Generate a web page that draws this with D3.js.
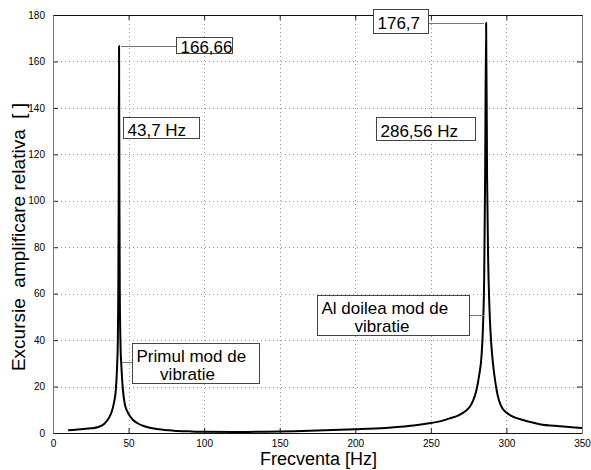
<!DOCTYPE html>
<html>
<head>
<meta charset="utf-8">
<script src="https://cdn.jsdelivr.net/npm/d3@7"></script>
<style>
  body { margin: 0; background: #fff; }
  text { font-family: "Liberation Sans", Arial, Helvetica, sans-serif; }
</style>
</head>
<body>
<script>
// frequency response (Hz -> relative amplification)
var freq = [10, 15, 20, 25, 30, 34, 37, 39, 40.5, 41.5, 42.3, 42.9, 43.2, 43.45, 43.7,
  43.95, 44.2, 44.6, 45.3, 46.2, 47.5, 49, 51, 53, 56, 60, 64, 70, 80, 90, 100, 120,
  140, 160, 180, 200, 220, 240, 250, 256, 262, 268, 273, 276, 278, 280, 282, 283.5,
  284.5, 285.3, 285.9, 286.56, 287.2, 287.9, 288.7, 289.6, 290.5, 292, 293.5, 295,
  297, 300, 305, 311, 322, 335, 350];
var amp = [1.2, 1.4, 1.7, 2.0, 2.6, 4.0, 6.5, 9.5, 13.5, 18, 27, 40, 60, 100, 166.66,
  100, 60, 40, 28, 19, 12.5, 9.5, 7.2, 5.6, 4.2, 3.0, 2.3, 1.6, 1.0, 0.7, 0.5, 0.45,
  0.55, 0.8, 1.15, 1.6, 2.2, 3.3, 4.3, 5.0, 6.2, 7.5, 9.5, 11.5, 14, 18, 25, 33,
  46, 68, 110, 176.7, 110, 75, 55, 42, 34, 25, 18.5, 14.2,
  11, 8.8, 6.8, 5.6, 3.8, 2.9, 2.2];

var xTicks = [0, 50, 100, 150, 200, 250, 300, 350];
var yTicks = [0, 20, 40, 60, 80, 100, 120, 140, 160, 180];

var xTitle = "Frecventa [Hz]";
var yTitle = "Excursie  amplificare relativa  [ ]";

var noteTexts = [
  ["166,66"],
  ["43,7 Hz"],
  ["176,7"],
  ["286,56 Hz"],
  ["Primul mod de", "     vibratie"],
  ["Al doilea mod de", "       vibratie"]
];

// layout
var W = 591, H = 470;
var margin = { top: 15, right: 9, bottom: 37, left: 53 };

var svg = d3.select("body").append("svg")
  .attr("width", W)
  .attr("height", H);

var x = d3.scaleLinear().domain([0, 350]).range([margin.left, W - margin.right]);
var y = d3.scaleLinear().domain([0, 180]).range([H - margin.bottom, margin.top]);

function px(v) { return Math.round(v) + 0.5; }

// dotted grid
svg.append("g").selectAll("line")
  .data(xTicks.slice(1, -1))
  .join("line")
  .attr("x1", d => px(x(d))).attr("x2", d => px(x(d)))
  .attr("y1", y(0)).attr("y2", y(180))
  .attr("stroke", "#999").attr("stroke-dasharray", "1,3");
svg.append("g").selectAll("line")
  .data(yTicks.slice(1, -1))
  .join("line")
  .attr("y1", d => px(y(d))).attr("y2", d => px(y(d)))
  .attr("x1", x(0)).attr("x2", x(350))
  .attr("stroke", "#999").attr("stroke-dasharray", "1,3");

// axes, ticks pointing inward like matlab
function styleAxis(g) {
  g.select(".domain").remove();
  g.selectAll("text")
    .attr("font-family", "'Liberation Sans', Arial, sans-serif")
    .attr("font-size", 10)
    .attr("fill", "#000");
  g.selectAll("line").attr("stroke", "#222");
}
svg.append("g")
  .attr("transform", "translate(0," + y(0) + ")")
  .call(d3.axisBottom(x).tickValues(xTicks).tickSize(-5).tickPadding(7))
  .call(styleAxis);
svg.append("g")
  .attr("transform", "translate(" + x(0) + ",0)")
  .call(d3.axisLeft(y).tickValues(yTicks).tickSize(-5).tickPadding(8))
  .call(styleAxis);
svg.append("g")
  .attr("transform", "translate(0," + y(180) + ")")
  .call(d3.axisTop(x).tickValues(xTicks).tickSize(-5).tickFormat(""))
  .call(styleAxis);
svg.append("g")
  .attr("transform", "translate(" + x(350) + ",0)")
  .call(d3.axisRight(y).tickValues(yTicks).tickSize(-5).tickFormat(""))
  .call(styleAxis);

// frame
var fx0 = px(x(0)), fx1 = px(x(350)), fy0 = px(y(0)), fy1 = px(y(180));
svg.append("line").attr("x1", fx0).attr("x2", fx1).attr("y1", fy0).attr("y2", fy0).attr("stroke", "#111");
svg.append("line").attr("x1", fx0).attr("x2", fx1).attr("y1", fy1).attr("y2", fy1).attr("stroke", "#111");
svg.append("line").attr("x1", fx0).attr("x2", fx0).attr("y1", fy0).attr("y2", fy1).attr("stroke", "#777");
svg.append("line").attr("x1", fx1).attr("x2", fx1).attr("y1", fy0).attr("y2", fy1).attr("stroke", "#777");

// curve
var pts = freq.map((f, i) => [f, amp[i]]);
var line = d3.line()
  .x(d => x(d[0]))
  .y(d => y(d[1]))
  .curve(d3.curveMonotoneX);
svg.append("path")
  .datum(pts)
  .attr("d", line)
  .attr("fill", "none")
  .attr("stroke", "#000")
  .attr("stroke-width", 2)
  .attr("stroke-linejoin", "round");

// annotation boxes (box corners and leader ends in data units)
var notes = [
  { box: [81.4, 118.6, 170.4, 163.5], leader: [[44.3, 166.66], [81.4, 166.66]] },
  { box: [46.5, 96.6, 136, 127], leader: null },
  { box: [211.9, 248.3, 182.6, 172.1], leader: [[248.3, 176.7], [284.8, 176.7]] },
  { box: [213.7, 279.2, 136.1, 126.2], leader: null },
  { box: [52.1, 136.5, 38.9, 21.7], leader: [[45.3, 30.5], [52.1, 30.5]] },
  { box: [174.5, 275.4, 59.4, 42.2], leader: [[275.4, 51], [284.5, 51]] }
];

notes.forEach(function(n, i) {
  if (n.leader) {
    svg.append("line")
      .attr("x1", px(x(n.leader[0][0]))).attr("y1", px(y(n.leader[0][1])))
      .attr("x2", px(x(n.leader[1][0]))).attr("y2", px(y(n.leader[1][1])))
      .attr("stroke", "#777")
      .attr("shape-rendering", "crispEdges");
  }
  var x0 = px(x(n.box[0])), x1 = px(x(n.box[1])), y0 = px(y(n.box[2])), y1 = px(y(n.box[3]));
  svg.append("rect")
    .attr("x", x0).attr("y", y0)
    .attr("width", x1 - x0).attr("height", y1 - y0)
    .attr("fill", "#fff")
    .attr("stroke", "#444")
    .attr("stroke-width", 1)
    .attr("shape-rendering", "crispEdges");
  var lines = noteTexts[i];
  var cy = (y0 + y1) / 2;
  var first = cy + 7.6 - (lines.length - 1) * 9.5;
  var t = svg.append("text")
    .attr("font-size", 17)
    .attr("fill", "#000")
    .style("white-space", "pre");
  lines.forEach(function(s, k) {
    t.append("tspan")
      .attr("x", x0 + 4)
      .attr("y", first + k * 18.5)
      .text(s);
  });
});

// axis titles
svg.append("text")
  .attr("x", (x(0) + x(350)) / 2 + 1)
  .attr("y", 465)
  .attr("text-anchor", "middle")
  .attr("font-size", 18)
  .text(xTitle);

svg.append("text")
  .attr("transform", "translate(25,237) rotate(-90)")
  .attr("text-anchor", "middle")
  .attr("font-size", 19)
  .style("white-space", "pre")
  .text(yTitle);
</script>
</body>
</html>
